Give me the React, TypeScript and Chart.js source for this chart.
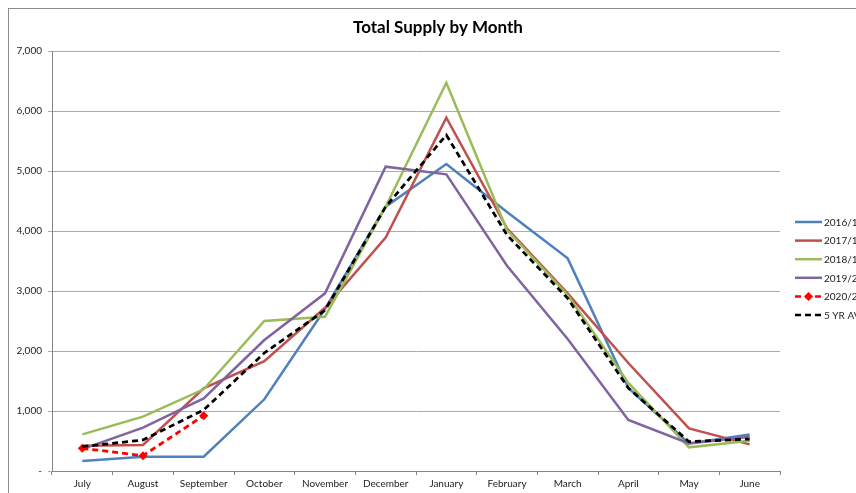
import React, { useEffect, useRef } from "react";
import { Chart, registerables } from "chart.js";

Chart.register(...registerables);

const months = ["July", "August", "September", "October", "November", "December", "January", "February", "March", "April", "May", "June"];
const s201617 = [167, 239, 239, 1195, 2700, 4405, 5117, 4317, 3544, 1383, 460, 610];
const s201718 = [422, 433, 1378, 1830, 2720, 3889, 5889, 4044, 2961, 1800, 711, 444];
const s201819 = [611, 906, 1361, 2500, 2572, 4405, 6472, 4017, 2933, 1467, 394, 506];
const s201920 = [365, 722, 1211, 2183, 2961, 5072, 4944, 3420, 2200, 850, 460, 570];
const s202021 = [378, 256, 922, null, null, null, null, null, null, null, null, null];
const s5yrAv = [406, 517, 1017, 1967, 2680, 4405, 5600, 3933, 2878, 1383, 489, 533];
const seriesNames = ["2016/17", "2017/18", "2018/19", "2019/20", "2020/21", "5 YR AVG"];
const yTickLabels = ["-", "1,000", "2,000", "3,000", "4,000", "5,000", "6,000", "7,000"];
const chartTitle = "Total Supply by Month";

const FONT = "Lato, 'Liberation Sans', sans-serif";

export default function App() {
  const ref = useRef<HTMLCanvasElement | null>(null);

  useEffect(() => {
    document.documentElement.style.overflow = "hidden";
    document.body.style.margin = "0";
    if (!ref.current) return;
    const colors = ["#4F81BD", "#C0504D", "#9BBB59", "#8064A2", "#FF0000", "#000000"];
    const seriesData = [s201617, s201718, s201819, s201920, s202021, s5yrAv];
    const dashes: number[][] = [[], [], [], [], [6, 4], [6, 4]];

    const overlay = {
      id: "overlay",
      afterDraw(chart: any) {
        const ctx = chart.ctx;
        ctx.save();
        // title
        ctx.fillStyle = "#000";
        ctx.font = `bold 17px ${FONT}`;
        ctx.textAlign = "center";
        ctx.textBaseline = "middle";
        ctx.fillText(chartTitle, 429, 19);
        // legend
        ctx.font = `10px ${FONT}`;
        ctx.textAlign = "left";
        for (let i = 0; i < seriesNames.length; i++) {
          const y = 213 + i * 18.6;
          ctx.strokeStyle = colors[i];
          ctx.lineWidth = 2.5;
          ctx.setLineDash(dashes[i]);
          ctx.beginPath();
          ctx.moveTo(786, y);
          ctx.lineTo(813, y);
          ctx.stroke();
          ctx.setLineDash([]);
          if (i === 4) {
            ctx.fillStyle = colors[i];
            ctx.beginPath();
            ctx.moveTo(799.5, y - 4.5);
            ctx.lineTo(804, y);
            ctx.lineTo(799.5, y + 4.5);
            ctx.lineTo(795, y);
            ctx.closePath();
            ctx.fill();
          }
          ctx.fillStyle = "#222";
          ctx.fillText(seriesNames[i], 815, y + 0.5);
        }
        ctx.restore();
      },
    };

    const chart = new Chart(ref.current, {
      type: "line",
      data: {
        labels: months,
        datasets: seriesData.map((d, i) => ({
          label: seriesNames[i],
          data: d,
          borderColor: colors[i],
          backgroundColor: colors[i],
          borderWidth: i >= 4 ? 2.75 : 2.5,
          borderDash: dashes[i],
          pointRadius: i === 4 ? 4.5 : 0,
          pointStyle: "rectRot",
          pointBorderWidth: 0,
          tension: 0,
          spanGaps: false,
          order: seriesNames.length - i,
        })),
      },
      options: {
        responsive: false,
        animation: false,
        layout: { padding: { top: 42, right: 76, left: 0, bottom: 0 } },
        plugins: {
          legend: { display: false },
          title: { display: false },
          tooltip: { enabled: false },
        },
        scales: {
          x: {
            type: "category",
            offset: true,
            grid: {
              display: true,
              drawOnChartArea: false,
              drawTicks: true,
              tickLength: 4,
              offset: true,
              color: "#868686",
            },
            border: { color: "#868686", width: 1 },
            ticks: {
              padding: 3,
              color: "#222",
              font: { family: FONT, size: 10 },
              maxRotation: 0,
              autoSkip: false,
            },
            afterFit(scale: any) {
              scale.height = 22;
            },
          },
          y: {
            min: 0,
            max: 7000,
            grid: { color: "#ababab", tickLength: 4, drawTicks: true, lineWidth: 1 },
            border: { color: "#868686", width: 1 },
            ticks: {
              stepSize: 1000,
              padding: 6,
              color: "#222",
              font: { family: FONT, size: 10 },
              callback: (v: any) => yTickLabels[Math.round(Number(v) / 1000)],
            },
            afterFit(scale: any) {
              scale.width = 43;
            },
          },
        },
      },
      plugins: [overlay],
    });
    return () => chart.destroy();
  }, []);

  return (
    <div
      style={{
        position: "absolute",
        left: 8,
        top: 8,
        width: 847,
        height: 484,
        borderLeft: "1px solid #8c8c8c",
        borderTop: "1px solid #8c8c8c",
        overflow: "hidden",
        background: "#fff",
      }}
    >
      <canvas ref={ref} width={847} height={484} style={{ display: "block", width: 847, height: 484 }} />
    </div>
  );
}
